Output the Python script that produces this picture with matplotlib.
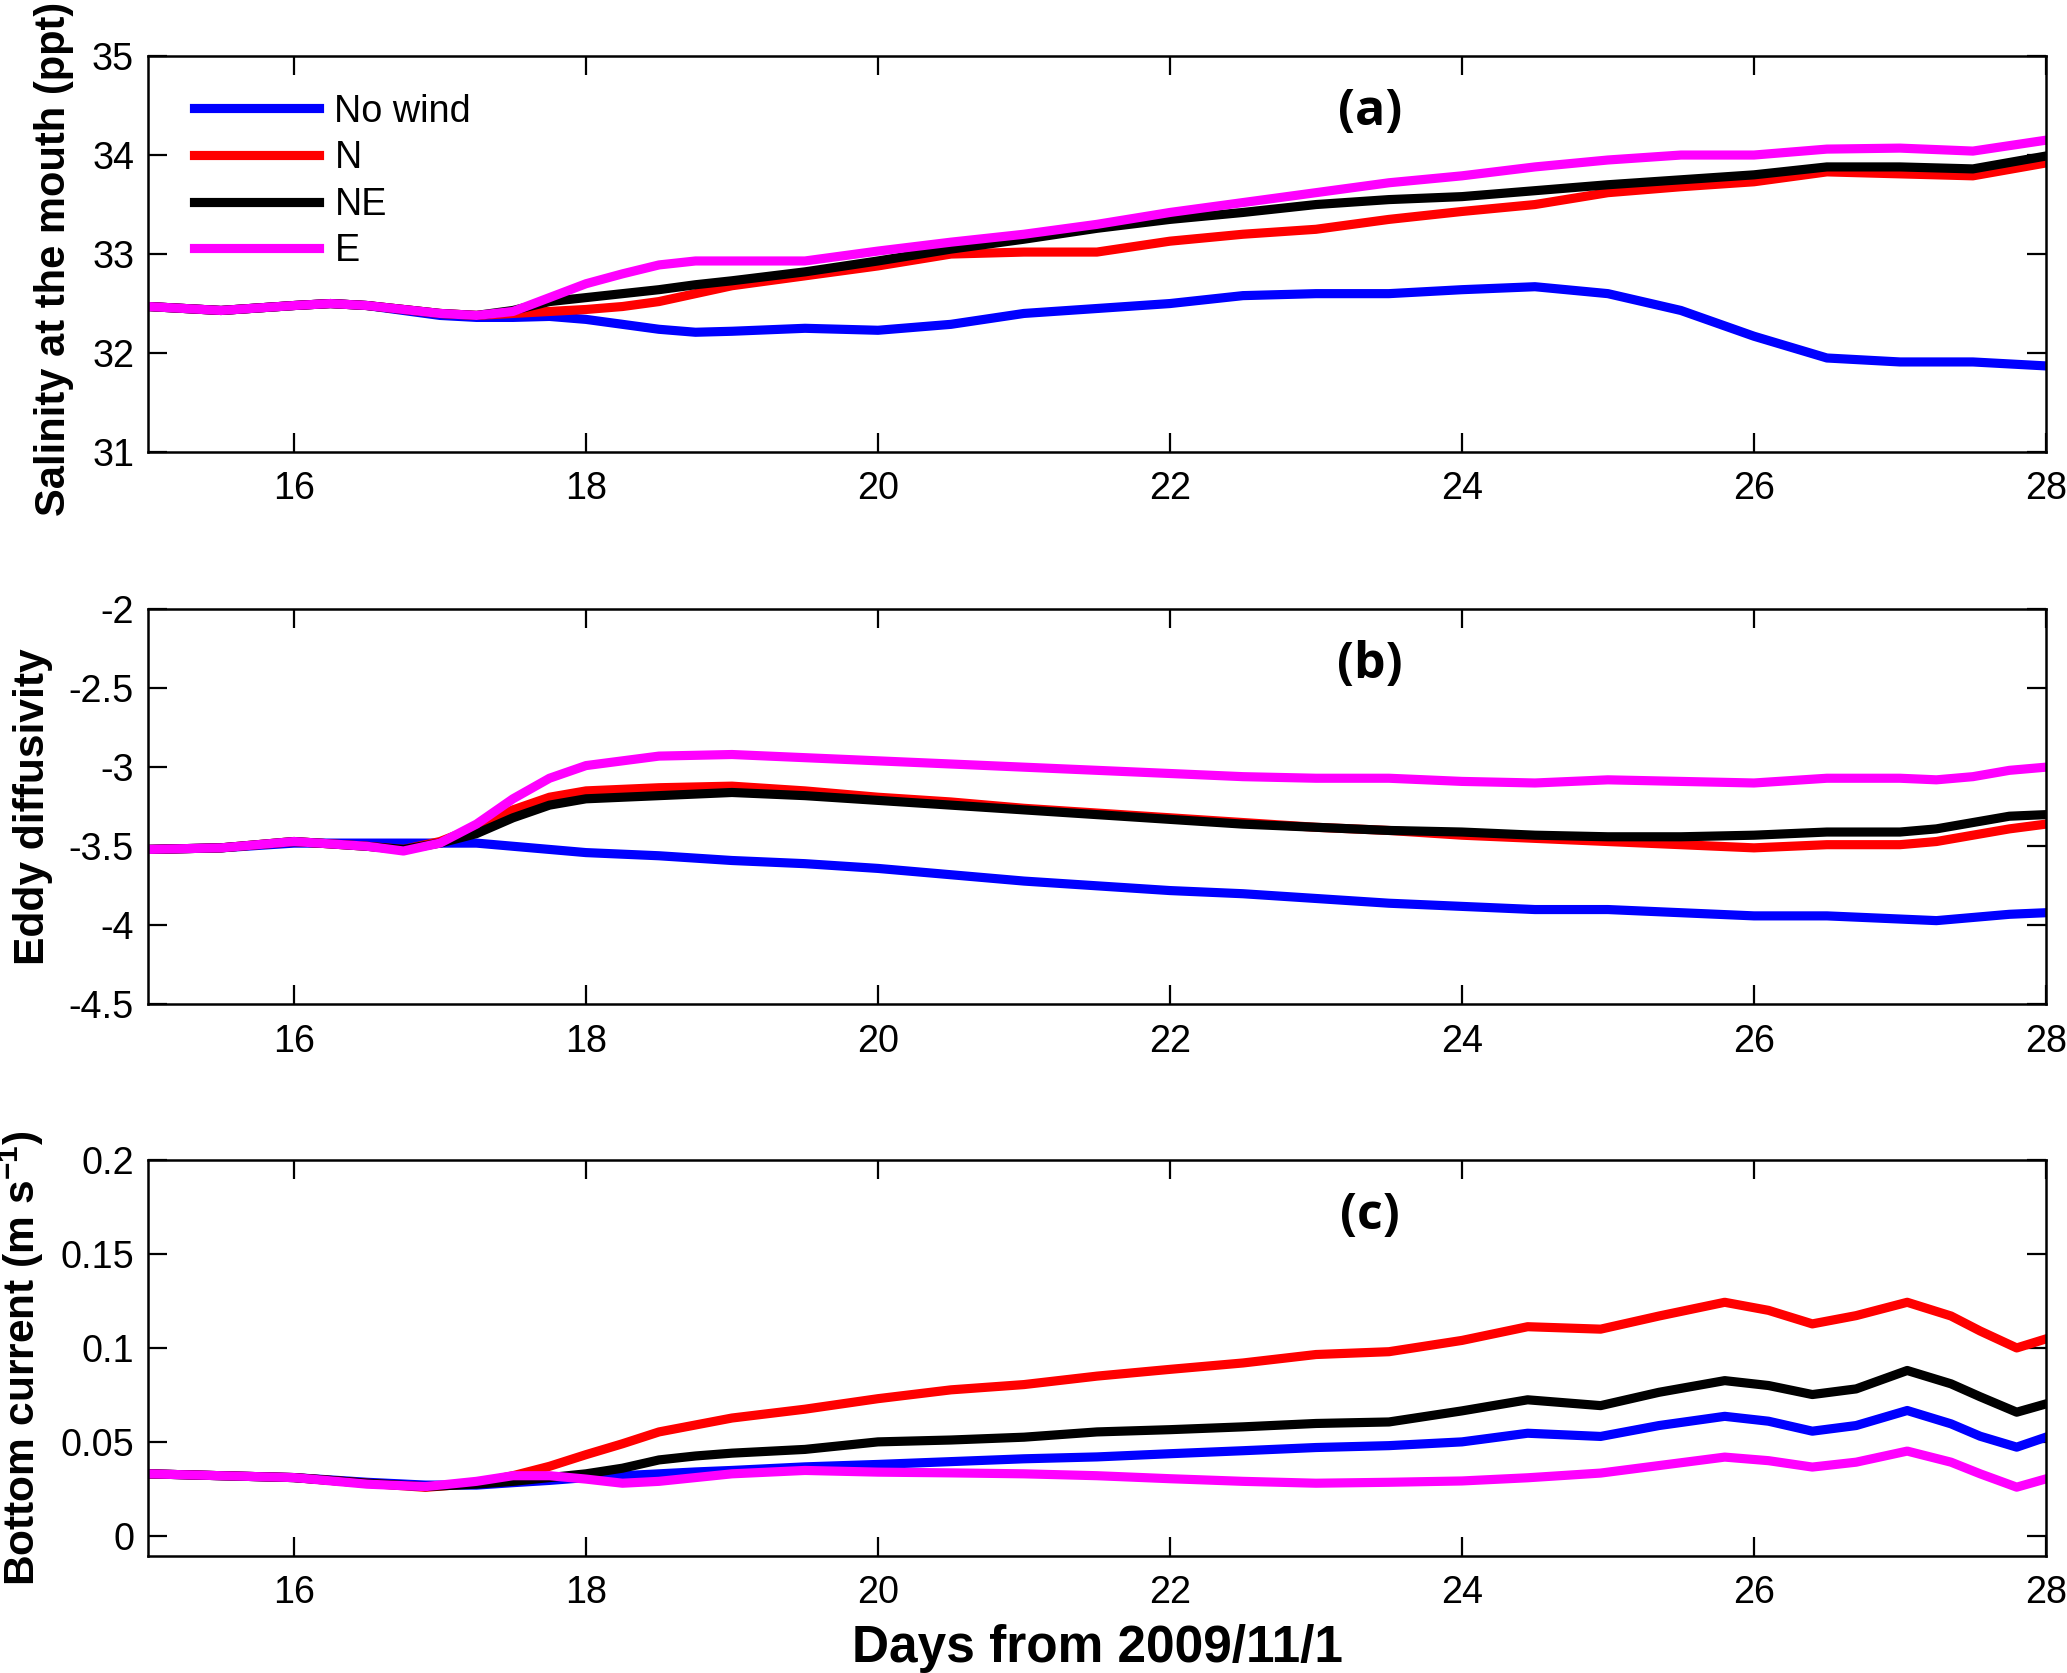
import matplotlib

matplotlib.use("Agg")
import matplotlib.pyplot as plt

plt.rcParams["font.family"] = ["Liberation Sans", "DejaVu Sans"]
plt.rcParams["mathtext.fontset"] = "custom"
plt.rcParams["mathtext.rm"] = "Liberation Sans"
plt.rcParams["mathtext.bf"] = "Liberation Sans:bold"

SERIES = ["No wind", "N", "NE", "E"]
COLORS = ["#0000ff", "#ff0000", "#000000", "#ff00ff"]

# ---- panel (a): salinity at the mouth (ppt)
DAYS_A = [15, 15.5, 16, 16.25, 16.5, 17, 17.25, 17.5, 17.75, 18, 18.25, 18.5, 18.75, 19, 19.5,
          20, 20.5, 21, 21.5, 22, 22.5, 23, 23.5, 24, 24.5, 25, 25.5, 26, 26.5, 27, 27.5, 28]
SAL_NOWIND = [32.47, 32.43, 32.48, 32.5, 32.48, 32.38, 32.36, 32.36, 32.37, 32.34, 32.29, 32.24,
              32.21, 32.22, 32.25, 32.23, 32.29, 32.4, 32.45, 32.5, 32.58, 32.6, 32.6, 32.64,
              32.67, 32.6, 32.43, 32.17, 31.95, 31.91, 31.91, 31.87]
SAL_N = [32.47, 32.43, 32.48, 32.5, 32.48, 32.4, 32.38, 32.4, 32.42, 32.44, 32.47, 32.52, 32.6,
         32.68, 32.78, 32.88, 33.0, 33.02, 33.02, 33.13, 33.2, 33.25, 33.35, 33.43, 33.5, 33.62,
         33.68, 33.73, 33.83, 33.81, 33.79, 33.92]
SAL_NE = [32.47, 32.43, 32.48, 32.5, 32.48, 32.4, 32.38, 32.43, 32.52, 32.56, 32.6, 32.64, 32.69,
          32.73, 32.82, 32.93, 33.05, 33.15, 33.26, 33.35, 33.42, 33.5, 33.55, 33.58, 33.64, 33.7,
          33.75, 33.8, 33.88, 33.88, 33.86, 33.99]
SAL_E = [32.47, 32.43, 32.48, 32.5, 32.48, 32.4, 32.38, 32.42, 32.56, 32.7, 32.8, 32.89, 32.93,
         32.93, 32.93, 33.03, 33.12, 33.2, 33.3, 33.42, 33.52, 33.62, 33.72, 33.79, 33.88, 33.95,
         34.0, 34.0, 34.06, 34.07, 34.04, 34.15]

# ---- panel (b): eddy diffusivity
DAYS_B = [15, 15.5, 16, 16.5, 16.75, 17, 17.25, 17.5, 17.75, 18, 18.5, 19, 19.5, 20, 20.5, 21,
          21.5, 22, 22.5, 23, 23.5, 24, 24.5, 25, 25.5, 26, 26.5, 27, 27.25, 27.5, 27.75, 28]
EDDY_NOWIND = [-3.52, -3.51, -3.48, -3.48, -3.48, -3.48, -3.48, -3.5, -3.52, -3.54, -3.56,
               -3.59, -3.61, -3.64, -3.68, -3.72, -3.75, -3.78, -3.8, -3.83, -3.86, -3.88,
               -3.9, -3.9, -3.92, -3.94, -3.94, -3.96, -3.97, -3.95, -3.93, -3.92]
EDDY_N = [-3.52, -3.51, -3.47, -3.5, -3.52, -3.47, -3.38, -3.27, -3.19, -3.15, -3.13, -3.12,
          -3.15, -3.19, -3.22, -3.26, -3.29, -3.32, -3.35, -3.38, -3.4, -3.43, -3.45, -3.47,
          -3.49, -3.51, -3.49, -3.49, -3.47, -3.43, -3.39, -3.36]
EDDY_NE = [-3.52, -3.51, -3.47, -3.5, -3.52, -3.48, -3.42, -3.32, -3.24, -3.2, -3.18, -3.16,
           -3.18, -3.21, -3.24, -3.27, -3.3, -3.33, -3.36, -3.38, -3.4, -3.41, -3.43, -3.44,
           -3.44, -3.43, -3.41, -3.41, -3.39, -3.35, -3.31, -3.3]
EDDY_E = [-3.52, -3.51, -3.47, -3.5, -3.53, -3.48, -3.36, -3.2, -3.07, -2.99, -2.93, -2.92,
          -2.94, -2.96, -2.98, -3.0, -3.02, -3.04, -3.06, -3.07, -3.07, -3.09, -3.1, -3.08,
          -3.09, -3.1, -3.07, -3.07, -3.08, -3.06, -3.02, -3.0]

# ---- panel (c): bottom current (m/s)
DAYS_C = [15, 15.5, 16, 16.5, 16.9, 17.25, 17.5, 17.75, 18, 18.25, 18.5, 18.75, 19, 19.5, 20,
          20.5, 21, 21.5, 22, 22.5, 23, 23.5, 24, 24.45, 24.95, 25.35, 25.8, 26.1, 26.4, 26.7,
          27.05, 27.35, 27.55, 27.8, 28]
CUR_NOWIND = [0.033, 0.032, 0.031, 0.0285, 0.027, 0.027, 0.0283, 0.0295, 0.031, 0.032, 0.033,
              0.034, 0.0348, 0.0367, 0.038, 0.0395, 0.041, 0.042, 0.0437, 0.0453, 0.047, 0.048,
              0.050, 0.0546, 0.0529, 0.0587, 0.0636, 0.061, 0.0557, 0.0587, 0.0667, 0.0596,
              0.053, 0.0472, 0.0525]
CUR_N = [0.033, 0.032, 0.031, 0.028, 0.0258, 0.028, 0.032, 0.037, 0.0432, 0.049, 0.0553, 0.059,
         0.0627, 0.0674, 0.073, 0.0777, 0.0805, 0.085, 0.0886, 0.092, 0.0965, 0.098, 0.104,
         0.1113, 0.110, 0.117, 0.1243, 0.120, 0.1128, 0.1172, 0.1243, 0.117, 0.109, 0.100,
         0.1048]
CUR_NE = [0.033, 0.032, 0.031, 0.028, 0.0262, 0.0275, 0.029, 0.031, 0.033, 0.036, 0.0404,
          0.0425, 0.044, 0.046, 0.050, 0.051, 0.0525, 0.0553, 0.0565, 0.058, 0.0598, 0.0606,
          0.0665, 0.0724, 0.0693, 0.0764, 0.0826, 0.080, 0.0752, 0.0782, 0.088, 0.0809, 0.074,
          0.0658, 0.0702]
CUR_E = [0.033, 0.032, 0.031, 0.0275, 0.0262, 0.029, 0.032, 0.032, 0.0302, 0.028, 0.029, 0.031,
         0.033, 0.0348, 0.0339, 0.0335, 0.033, 0.032, 0.0304, 0.029, 0.028, 0.0285, 0.0292,
         0.0309, 0.0334, 0.0374, 0.0419, 0.040, 0.0366, 0.0392, 0.0451, 0.0392, 0.033, 0.0259,
         0.0303]

PANELS = [
    dict(days=DAYS_A, data=[SAL_NOWIND, SAL_N, SAL_NE, SAL_E], ylim=(31, 35),
         yticks=[31, 32, 33, 34, 35], ylabels=["31", "32", "33", "34", "35"],
         ylabel="Salinity at the mouth (ppt)", tag="(a)", rect=[0.0716, 0.7298, 0.9182, 0.2367]),
    dict(days=DAYS_B, data=[EDDY_NOWIND, EDDY_N, EDDY_NE, EDDY_E], ylim=(-4.5, -2),
         yticks=[-4.5, -4, -3.5, -3, -2.5, -2],
         ylabels=["-4.5", "-4", "-3.5", "-3", "-2.5", "-2"],
         ylabel="Eddy diffusivity", tag="(b)", rect=[0.0716, 0.3996, 0.9182, 0.2364]),
    dict(days=DAYS_C, data=[CUR_NOWIND, CUR_N, CUR_NE, CUR_E], ylim=(-0.0105, 0.2),
         yticks=[0, 0.05, 0.1, 0.15, 0.2], ylabels=["0", "0.05", "0.1", "0.15", "0.2"],
         ylabel=r"Bottom current (m s$^{\mathbf{-1}}$)", tag="(c)",
         rect=[0.0716, 0.0702, 0.9182, 0.2364]),
]
XTICKS = [16, 18, 20, 22, 24, 26, 28]
YLABEL_X = [-0.039, -0.050, -0.054]
YLABEL_Y = [0.487, 0.5, 0.5]

fig = plt.figure(figsize=(10.335, 8.365), dpi=200)

axes = []
for i, p in enumerate(PANELS):
    ax = fig.add_axes(p["rect"])
    for vals, name, col in zip(p["data"], SERIES, COLORS):
        ax.plot(p["days"], vals, color=col, lw=3.3, label=name)
    ax.set_xlim(15, 28)
    ax.set_ylim(*p["ylim"])
    ax.set_xticks(XTICKS)
    ax.set_yticks(p["yticks"])
    ax.set_yticklabels(p["ylabels"])
    ax.tick_params(direction="in", length=6.8, width=0.8, top=True, right=True,
                   labelsize=13.6)
    ax.tick_params(axis="x", pad=7)
    ax.tick_params(axis="y", pad=5)
    for s in ax.spines.values():
        s.set_linewidth(0.9)
    ax.set_ylabel(p["ylabel"], fontsize=15 if i == 0 else 15.3, fontweight="bold")
    ax.yaxis.set_label_coords(YLABEL_X[i], YLABEL_Y[i])
    ax.text(0.644, 0.858, p["tag"], transform=ax.transAxes, ha="center", va="center",
            fontsize=18, fontweight="bold", family=["Open Sans", "DejaVu Sans"])
    axes.append(ax)

axes[0].legend(loc="upper left", bbox_to_anchor=(0.024, 0.905), frameon=False,
               fontsize=13.6, handlelength=3.33, handletextpad=0.4, labelspacing=0.28,
               borderpad=0, borderaxespad=0)

axes[2].set_xlabel("Days from 2009/11/1", fontsize=18.5, fontweight="bold")
axes[2].xaxis.set_label_coords(0.5, -0.173)

fig.savefig("out.png", dpi=200)
